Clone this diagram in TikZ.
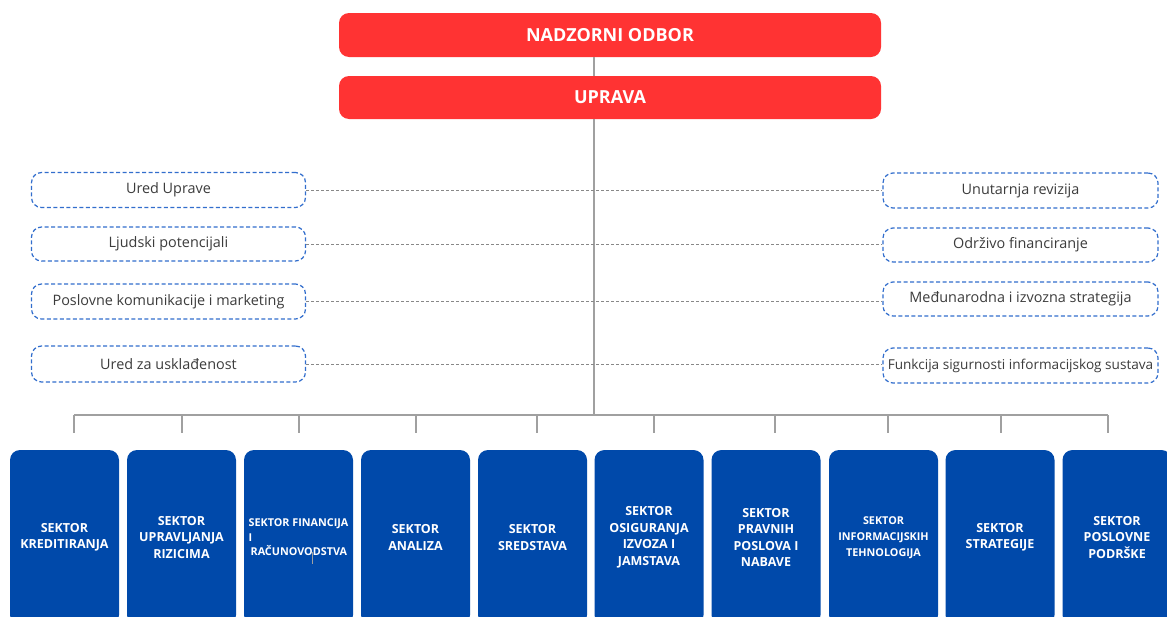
\documentclass[tikz,border=0pt]{standalone}
\usepackage{fontspec}
\setmainfont{Open Sans}
\definecolor{redc}{RGB}{255,51,51}
\definecolor{bluec}{RGB}{0,73,170}
\definecolor{dashc}{RGB}{50,110,205}
\definecolor{linec}{RGB}{160,160,160}
\definecolor{txtc}{RGB}{60,60,60}
\begin{document}
\begin{tikzpicture}[x=1pt,y=-1pt,
  redbox/.style={fill=redc,draw=none,rounded corners=10pt,minimum width=542pt,inner sep=0pt,text=white,font=\fontsize{18}{21}\selectfont\bfseries},
  bluebox/.style={fill=bluec,draw=none,rounded corners=10pt,minimum width=109pt,minimum height=175pt,inner sep=0pt,text=white,align=center,font=\fontsize{12.5}{16.5}\selectfont\bfseries},
  unit/.style={draw=dashc,line width=1.2pt,dash pattern=on 4pt off 2.5pt,rounded corners=10pt,inner sep=0pt,text=txtc,font=\fontsize{14.4}{17}\selectfont},
  trunk/.style={draw=linec,line width=1.8pt},
  dotc/.style={draw=linec!85!black,line width=1pt,dash pattern=on 3pt off 2pt}]
\useasboundingbox (0,0) rectangle (1167,616);
\fill[white] (0,0) rectangle (1167,616);

\node[redbox,minimum height=44pt] (nad) at (610,35) {NADZORNI ODBOR};
\node[redbox,minimum height=43pt] (upr) at (610,97.5) {UPRAVA};

\coordinate (tr) at (594,415);
\draw[trunk] (nad.south -| tr) -- (upr.north -| tr);
\draw[trunk] (upr.south -| tr) -- (tr);

% staff units
\node[unit,minimum width=274pt,minimum height=35pt] (l1) at (168.5,190) {Ured Uprave};
\node[unit,minimum width=274pt,minimum height=34pt] (l2) at (168.5,244) {Ljudski potencijali};
\node[unit,minimum width=274pt,minimum height=35pt] (l3) at (168.5,301.5) {Poslovne komunikacije i marketing};
\node[unit,minimum width=274pt,minimum height=36pt] (l4) at (168.5,364) {Ured za usklađenost};
\node[unit,minimum width=275pt,minimum height=35pt] (r1) at (1020.5,190.5) {Unutarnja revizija};
\node[unit,minimum width=275pt,minimum height=34pt] (r2) at (1020.5,245) {Održivo financiranje};
\node[unit,minimum width=275pt,minimum height=34pt] (r3) at (1020.5,299) {Međunarodna i izvozna strategija};
\node[unit,minimum width=275pt,minimum height=35pt,font=\fontsize{13.6}{16}\selectfont] (r4) at (1020.5,365.5) {Funkcija sigurnosti informacijskog sustava};

\foreach \i in {1,...,4}{
  \draw[dotc] (l\i.east) -- (l\i.east -| r\i.west);
}

% bus
\foreach \n/\x in {1/74,2/182,3/299,4/416,5/537,6/654,7/775,8/888,9/1001,10/1108}{
  \coordinate (d\n) at (\x,415);
}
\draw[trunk] (d1) -- (d10);
\foreach \n in {1,...,10}{
  \draw[trunk] (d\n) -- ++(0,18);
}

% sectors
\node[bluebox] (s1) at (64.5,537.5) {SEKTOR\\KREDITIRANJA};
\node[bluebox] (s2) at (181.5,537.5) {SEKTOR\\UPRAVLJANJA\\RIZICIMA};
\node[bluebox,align=left,font=\fontsize{10.8}{14.5}\selectfont\bfseries] (s3) at (298.5,537.5) {SEKTOR FINANCIJA\\I\\\hspace*{2pt}RAČUNOVODSTVA};
\node[bluebox] (s4) at (415.5,537.5) {SEKTOR\\ANALIZA};
\node[bluebox] (s5) at (532.5,537.5) {SEKTOR\\SREDSTAVA};
\node[bluebox] (s6) at (649,537.5) {SEKTOR\\OSIGURANJA\\IZVOZA I\\JAMSTAVA};
\node[bluebox] (s7) at (766,537.5) {SEKTOR\\PRAVNIH\\POSLOVA I\\NABAVE};
\node[bluebox,font=\fontsize{10.8}{16}\selectfont\bfseries] (s8) at (883.5,537.5) {SEKTOR\\INFORMACIJSKIH\\TEHNOLOGIJA};
\node[bluebox] (s9) at (1000,537.5) {SEKTOR\\STRATEGIJE};
\node[bluebox] (s10) at (1117,537.5) {SEKTOR\\POSLOVNE\\PODRŠKE};
\draw[linec,line width=0.8pt] (312,552) -- (312,564);
\end{tikzpicture}
\end{document}
